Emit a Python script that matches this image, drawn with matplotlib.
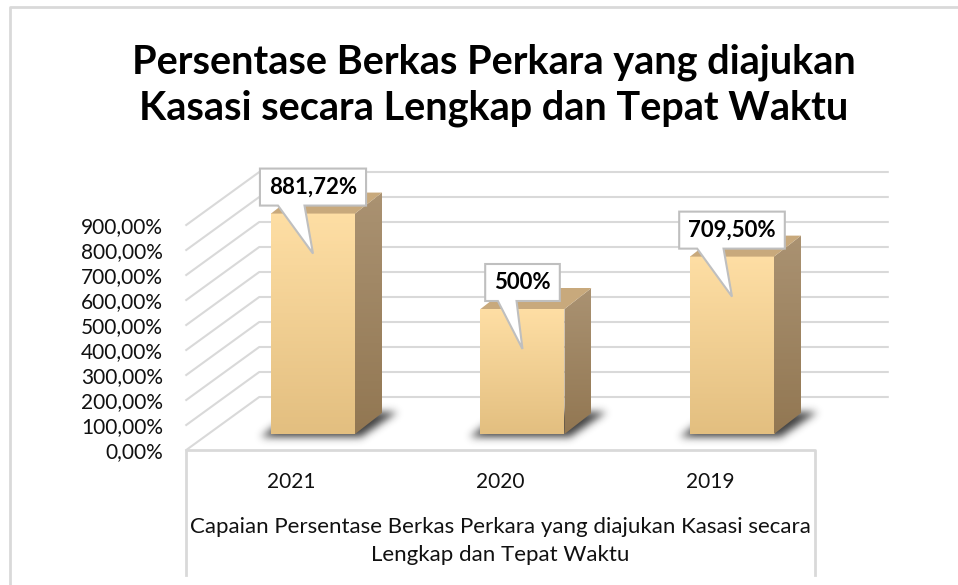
import numpy as np
import matplotlib
matplotlib.use('Agg')
import matplotlib.pyplot as plt
from matplotlib.patches import Polygon
from matplotlib.lines import Line2D

# data
years = ['2021', '2020', '2019']
values = [881.72, 500.0, 709.50]
value_labels = ['881,72%', '500%', '709,50%']
y_ticks = [0, 100, 200, 300, 400, 500, 600, 700, 800, 900]
y_tick_labels = ['%d,00%%' % t for t in y_ticks]
title = 'Persentase Berkas Perkara yang diajukan\nKasasi secara Lengkap dan Tepat Waktu'
axis_title = ('Capaian Persentase Berkas Perkara yang diajukan Kasasi secara\n'
              'Lengkap dan Tepat Waktu')

W, H = 958, 585
FONT = 'Lato'

# layout (pixels)
px_x = 209.5      # pixels per category step
px_y = 0.25       # pixels per percent
x0_px = 313       # centre of first bar
base_px = H - 434 # bar baseline, display coords

# depth offsets of the pseudo 3d box, in data units
def off(dx, dy):
    return dx / px_x, dy / px_y

BACK = off(51, 37)
FRONT = off(-22, -16)
SIDE = off(27, 21)
hw = 42 / px_x

grid_col = '#D9D9D9'

fig = plt.figure(figsize=(W / 100, H / 100), dpi=100)
ax = fig.add_axes([0, 0, 1, 1])
ax.set_xlim(-x0_px / px_x, (W - x0_px) / px_x)
ax.set_ylim(-base_px / px_y, (H - base_px) / px_y)
ax.axis('off')

# outer chart border (top and left)
fig.add_artist(Line2D([10 / W, 10 / W, 1], [0, 1 - 7 / H, 1 - 7 / H],
                      transform=fig.transFigure, color=grid_col, lw=2))

# gridlines: side wall diagonals + back wall
for t, lab in zip(y_ticks, y_tick_labels):
    ax.plot([-0.5 + FRONT[0], -0.5 + BACK[0], 2.5 + BACK[0]],
            [t + FRONT[1], t + BACK[1], t + BACK[1]],
            color=grid_col, lw=1.5, zorder=1)
    ax.text(-0.5 + FRONT[0] - 23 / px_x, t + FRONT[1] - 2 / px_y, lab,
            ha='right', va='center', fontsize=15, family=FONT, color='#111111')

# floor / category box
bottom_y = (10 - base_px) / px_y
ax.plot([-0.5 + FRONT[0], -0.5 + FRONT[0], 2.5 + FRONT[0], 2.5 + FRONT[0]],
        [bottom_y, FRONT[1], FRONT[1], bottom_y], color=grid_col, lw=2, zorder=1)

for i, yr in enumerate(years):
    ax.text(i + FRONT[0], FRONT[1] - 32 / px_y, yr, ha='center', va='center',
            fontsize=15, family=FONT, color='#111111')

ax.text(1 + FRONT[0], FRONT[1] - 91 / px_y, axis_title, ha='center', va='center',
        fontsize=16, family=FONT, color='#111111', linespacing=1.5)

fig.text(494 / W, 1 - 85 / H, title, ha='center', va='center', fontsize=28.5,
         fontweight='bold', family=FONT, color='black', linespacing=1.28)


def vgrad(c_bot, c_top, n=64):
    a = np.array(matplotlib.colors.to_rgb(c_bot))
    b = np.array(matplotlib.colors.to_rgb(c_top))
    s = np.linspace(0, 1, n)[:, None]
    return (a + (b - a) * s)[:, None, :]


def blur(img, sigma):
    k = np.arange(-3 * sigma, 3 * sigma + 1)
    g = np.exp(-k ** 2 / (2.0 * sigma ** 2))
    g /= g.sum()
    img = np.apply_along_axis(lambda r: np.convolve(r, g, mode='same'), 1, img)
    img = np.apply_along_axis(lambda c: np.convolve(c, g, mode='same'), 0, img)
    return img


# bars
for i, v in enumerate(values):
    xl, xr = i - hw, i + hw

    # soft shadow on the floor
    wpx = 2 * hw * px_x
    pad = 30
    xs = np.arange(-pad, wpx + 27 + pad)
    ys = np.arange(-pad, 21 + pad)
    X, Y = np.meshgrid(xs, ys)
    s = (Y + 3) / 24.0
    left = -10 + s * 32
    right = wpx + 6 + s * 35
    mask = ((Y >= -3) & (Y <= 21) & (X >= left) & (X <= right)).astype(float)
    alpha = blur(mask, 4) * 0.85
    rgba = np.zeros(mask.shape + (4,))
    rgba[..., :3] = 0.12
    rgba[..., 3] = alpha
    ax.imshow(rgba, origin='lower', aspect='auto', interpolation='bilinear',
              extent=(xl + xs[0] / px_x, xl + (xs[-1] + 1) / px_x,
                      ys[0] / px_y, (ys[-1] + 1) / px_y), zorder=2)

    # front face
    ax.imshow(vgrad('#E3BF80', '#FEDEA4'), origin='lower', aspect='auto',
              extent=(xl, xr, 0, v), zorder=3)

    # side face
    side = Polygon([(xr, 0), (xr, v), (xr + SIDE[0], v + SIDE[1]), (xr + SIDE[0], SIDE[1])],
                   closed=True, facecolor='none', edgecolor='none')
    ax.add_patch(side)
    im = ax.imshow(vgrad('#927752', '#AA9272'), origin='lower', aspect='auto',
                   extent=(xr, xr + SIDE[0], 0, v + SIDE[1]), zorder=3)
    im.set_clip_path(side)

    # top face
    ax.add_patch(Polygon([(xl, v), (xr, v), (xr + SIDE[0], v + SIDE[1]), (xl + SIDE[0], v + SIDE[1])],
                         closed=True, facecolor='#C8A97C', edgecolor='none', zorder=3))

# data label callouts
fig.canvas.draw()
renderer = fig.canvas.get_renderer()
for i, (v, lab) in enumerate(zip(values, value_labels)):
    cy = v + (8 + 18.5) / px_y
    t = ax.text(i, cy, lab, ha='center', va='center', fontsize=16,
                fontweight='bold', family=FONT, color='black', zorder=6)
    bb = t.get_window_extent(renderer)
    bw = bb.width + 18
    l = i - bw / 2 / px_x
    r = i + bw / 2 / px_x
    top = v + (8 + 37) / px_y
    bot = v + 8 / px_y
    wx = bw / px_x
    pts = [(l, top), (r, top), (r, bot), (l + 0.42 * wx, bot),
           (l + 0.5 * wx, v - 40 / px_y), (l + 0.17 * wx, bot), (l, bot)]
    ax.add_patch(Polygon(pts, closed=True, facecolor='white', edgecolor='#BFBFBF',
                         lw=1.5, zorder=5, joinstyle='miter'))

fig.savefig('out.png', dpi=100)
